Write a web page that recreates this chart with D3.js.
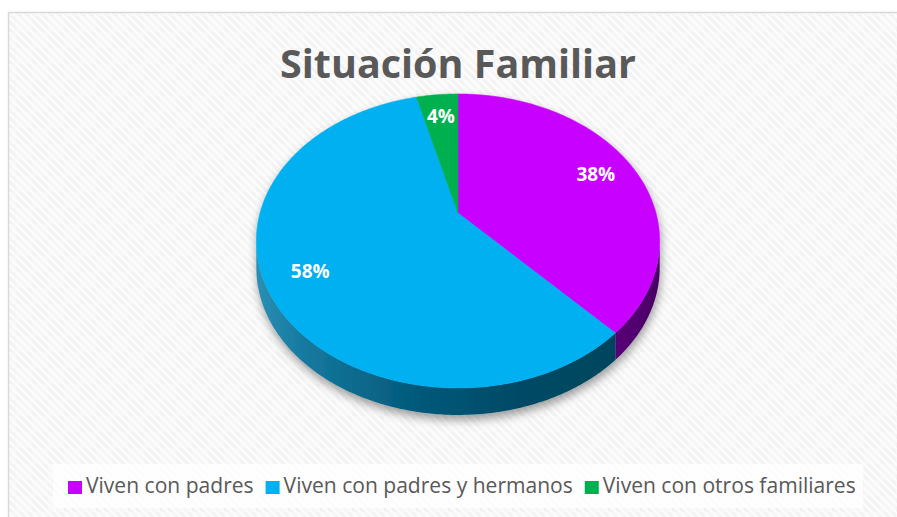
<!DOCTYPE html>
<html lang="es">
<head>
  <meta charset="UTF-8" />
  <title>Situación Familiar</title>
  <script src="https://d3js.org/d3.v7.min.js"></script>
  <style>
    body { margin: 0; background: #fff; }
    svg { display: block; }
  </style>
</head>
<body>
  <svg width="897" height="517"></svg>

  <script>
    // datos
    const title = "Situación Familiar";
    const categories = ["Viven con padres", "Viven con padres y hermanos", "Viven con otros familiares"];
    const values = [38, 58, 4];
    const colors = ["#c800ff", "#00b0f0", "#00b050"];
    const sideColors = ["url(#sidePurple)", "url(#sideBlue)", "#006b30"];

    const width = 897, height = 517;
    const svg = d3.select("svg");
    const defs = svg.append("defs");

    // fondo a rayas
    const pat = defs.append("pattern")
      .attr("id", "bg").attr("patternUnits", "userSpaceOnUse")
      .attr("width", 32).attr("height", 32);
    pat.append("rect").attr("width", 32).attr("height", 32).attr("fill", "#f3f3f3");
    pat.append("rect").attr("width", 16).attr("height", 16).attr("fill", "#f7f7f7");
    pat.append("rect").attr("x", 16).attr("y", 16).attr("width", 16).attr("height", 16).attr("fill", "#f7f7f7");
    for (let i = -4; i <= 4; i++) {
      pat.append("line")
        .attr("x1", i * 8).attr("y1", 0).attr("x2", i * 8 + 32).attr("y2", 32)
        .attr("stroke", "#fdfdfd").attr("stroke-width", 2.4);
    }

    const gBlue = defs.append("linearGradient").attr("id", "sideBlue")
      .attr("gradientUnits", "userSpaceOnUse").attr("x1", 256).attr("x2", 660).attr("y1", 0).attr("y2", 0);
    [[0, "#2b8fb3"], [0.12, "#15799f"], [0.4, "#02597a"], [0.65, "#004a66"], [1, "#00425a"]]
      .forEach(([o, c]) => gBlue.append("stop").attr("offset", o).attr("stop-color", c));
    const gPurp = defs.append("linearGradient").attr("id", "sidePurple")
      .attr("gradientUnits", "userSpaceOnUse").attr("x1", 600).attr("x2", 660).attr("y1", 0).attr("y2", 0);
    [[0, "#5c007c"], [1, "#4a0066"]]
      .forEach(([o, c]) => gPurp.append("stop").attr("offset", o).attr("stop-color", c));

    const shadow = defs.append("filter").attr("id", "shadow")
      .attr("x", "-20%").attr("y", "-20%").attr("width", "140%").attr("height", "140%");
    shadow.append("feDropShadow").attr("dx", 1).attr("dy", 5).attr("stdDeviation", 5)
      .attr("flood-color", "#000").attr("flood-opacity", 0.38);

    svg.append("rect").attr("x", 8.5).attr("y", 12.5).attr("width", 900).attr("height", 520)
      .attr("fill", "url(#bg)").attr("stroke", "#d9d9d9").attr("stroke-width", 1.5);

    // título
    const t = svg.append("text")
      .attr("x", 458).attr("y", 78).attr("text-anchor", "middle")
      .attr("font-family", "'Open Sans', sans-serif").attr("font-weight", 700)
      .attr("font-size", 40).attr("fill", "#595959").text(title);
    t.attr("font-size", 40 * 356 / t.node().getComputedTextLength());

    // pastel 3D con perspectiva
    const cx = 458, cy = 213, sx = 198, sy = 141.7, k = -0.19, depth = 27;
    function proj(theta, r = 1, dz = 0) {
      const u = r * Math.sin(theta), v = -r * Math.cos(theta);
      const d = 1 + k * v;
      return [cx + sx * u / d, cy + sy * v / d + dz];
    }
    function arcPts(a0, a1, dz) {
      const n = Math.max(2, Math.ceil((a1 - a0) / 0.01));
      return d3.range(n + 1).map(i => proj(a0 + (a1 - a0) * i / n, 1, dz));
    }

    const arcs = d3.pie().sort(null).value(d => d)(values);
    const line = d3.line();
    const thR = Math.acos(k), thL = 2 * Math.PI - Math.acos(k);

    const pieG = svg.append("g").attr("filter", "url(#shadow)");

    pieG.selectAll("path.side")
      .data(arcs.filter(d => Math.min(d.endAngle, thL) > Math.max(d.startAngle, thR)))
      .join("path")
      .attr("class", "side")
      .attr("fill", d => sideColors[d.index])
      .attr("d", d => {
        const a0 = Math.max(d.startAngle, thR), a1 = Math.min(d.endAngle, thL);
        return line(arcPts(a0, a1, 0).concat(arcPts(a0, a1, depth).reverse())) + "Z";
      });

    pieG.selectAll("path.top")
      .data(arcs)
      .join("path")
      .attr("class", "top")
      .attr("fill", d => colors[d.index])
      .attr("stroke", d => colors[d.index]).attr("stroke-width", 0.5)
      .attr("d", d => line([proj(0, 0)].concat(arcPts(d.startAngle, d.endAngle, 0))) + "Z");

    svg.selectAll("text.lbl")
      .data(arcs)
      .join("text")
      .attr("class", "lbl")
      .attr("x", d => proj((d.startAngle + d.endAngle) / 2, 0.79)[0])
      .attr("y", d => proj((d.startAngle + d.endAngle) / 2, 0.79)[1])
      .attr("text-anchor", "middle").attr("dominant-baseline", "central")
      .attr("font-family", "'Open Sans', sans-serif").attr("font-weight", 700)
      .attr("font-size", 19).attr("fill", "#fff")
      .text(d => d.data + "%");

    // leyenda
    svg.append("rect").attr("x", 53).attr("y", 464).attr("width", 810).attr("height", 44)
      .attr("fill", "#fff").attr("opacity", 0.75);
    const lg = svg.append("g");
    const items = lg.selectAll("g").data(categories).join("g");
    items.append("rect").attr("width", 14).attr("height", 13).attr("y", -12)
      .attr("fill", (d, i) => colors[i]);
    const lt = items.append("text").attr("x", 18)
      .attr("font-family", "'Open Sans', sans-serif").attr("font-size", 19)
      .attr("fill", "#595959").text(d => d);
    const fs = 19 * 253 / lt.nodes()[2].getComputedTextLength();
    lt.attr("font-size", fs);
    let xpos = 68;
    items.each(function () {
      const g = d3.select(this);
      g.attr("transform", `translate(${xpos},493)`);
      xpos += 18 + g.select("text").node().getComputedTextLength() + 12;
    });
  </script>
</body>
</html>
